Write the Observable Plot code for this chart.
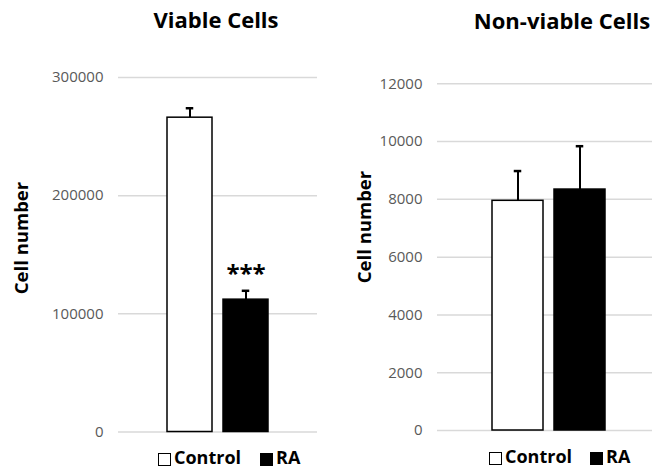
<!DOCTYPE html>
<html>
<head>
<meta charset="utf-8">
<script src="https://cdn.jsdelivr.net/npm/d3@7"></script>
<script src="https://cdn.jsdelivr.net/npm/@observablehq/plot@0.6"></script>
<style>
  html, body { margin: 0; padding: 0; background: #fff; }
  body { font-family: "Open Sans", sans-serif; }
  #root { position: relative; width: 652px; height: 471px; overflow: hidden; background: #fff; }
  .panel { position: absolute; top: 0; }
  .t { position: absolute; font-weight: 700; white-space: nowrap; line-height: 1; color: #000; }
  .title { font-size: 22px; transform: translateX(-50%); }
  .ylab { font-size: 18.5px; transform: translate(-50%, -50%) rotate(-90deg); }
  .legend { position: absolute; display: flex; align-items: center; font-weight: 700; font-size: 18px; line-height: 1; white-space: nowrap; }
  .sw { display: inline-block; width: 11px; height: 11px; border: 1.2px solid #000; box-sizing: content-box; position: relative; top: 2px; }
</style>
</head>
<body>
<div id="root">
  <div id="left" class="panel" style="left:0"></div>
  <div id="right" class="panel" style="left:326px"></div>
  <div class="t title" style="left:216px; top:7.5px">Viable Cells</div>
  <div class="t title" style="left:562px; top:8.5px">Non-viable Cells</div>
  <div class="t ylab" style="left:21px; top:238px">Cell number</div>
  <div class="t ylab" style="left:364px; top:227px">Cell number</div>
  <div class="legend" style="left:158px; top:448px">
    <span class="sw" style="background:#fff"></span><span style="margin-left:3px">Control</span>
    <span class="sw" style="background:#000; margin-left:19px"></span><span style="margin-left:3px">RA</span>
  </div>
  <div class="legend" style="left:489px; top:447px">
    <span class="sw" style="background:#fff"></span><span style="margin-left:3px">Control</span>
    <span class="sw" style="background:#000; margin-left:18px"></span><span style="margin-left:3px">RA</span>
  </div>
</div>
<script>
// ---- data ----
const categories = ["Control", "RA"];
const viableMean = [266000, 112000];
const viableSE = [8000, 7500];
const viableSig = ["", "***"];
const viableTicks = [0, 100000, 200000, 300000];

const nonviableMean = [7950, 8340];
const nonviableSE = [1030, 1500];
const nonviableTicks = [0, 2000, 4000, 6000, 8000, 10000, 12000];

const barColors = ["#ffffff", "#000000"];

function rows(means, ses, sig) {
  return categories.map((c, i) => ({cat: c, mean: means[i], se: ses[i], sig: sig ? sig[i] : ""}));
}

function panel({data, ticks, marginLeft, marginRight, marginTop, marginBottom, pi, po, align, capInset}) {
  return Plot.plot({
    width: 326,
    height: 471,
    marginLeft, marginRight, marginTop, marginBottom,
    style: {fontFamily: "'Open Sans', sans-serif", background: "transparent"},
    x: {domain: categories, paddingInner: pi, paddingOuter: po, align, axis: null},
    y: {domain: [ticks[0], ticks[ticks.length - 1]], axis: null},
    color: {domain: categories, range: barColors},
    marks: [
      Plot.gridY(ticks, {stroke: "#d9d9d9", strokeOpacity: 1, strokeWidth: 1.5}),
      Plot.axisY(ticks, {tickSize: 0, tickPadding: 15, tickFormat: d => String(d), fill: "#595959", fontSize: 15, label: null}),
      Plot.ruleX(data, {x: "cat", y1: "mean", y2: d => d.mean + d.se, stroke: "#000", strokeWidth: 2}),
      Plot.tickY(data, {x: "cat", y: d => d.mean + d.se, stroke: "#000", strokeWidth: 2.5, insetLeft: capInset, insetRight: capInset}),
      Plot.barY(data, {x: "cat", y: "mean", fill: "cat", stroke: "#000", strokeWidth: 1.5}),
      Plot.text(data, {x: "cat", y: d => d.mean + d.se, text: "sig", fontSize: 24, fontWeight: 700, fill: "#000", dy: -16})
    ]
  });
}

document.getElementById("left").append(panel({
  data: rows(viableMean, viableSE, viableSig),
  ticks: viableTicks,
  marginLeft: 118, marginRight: 9, marginTop: 77, marginBottom: 39.5,
  pi: 0.195, po: 0.858, align: 0.505, capInset: 18.75
}));

document.getElementById("right").append(panel({
  data: rows(nonviableMean, nonviableSE, null),
  ticks: nonviableTicks,
  marginLeft: 111, marginRight: 0, marginTop: 83.3, marginBottom: 41,
  pi: 0.176, po: 0.808, align: 0.535, capInset: 21.75
}));
</script>
</body>
</html>
